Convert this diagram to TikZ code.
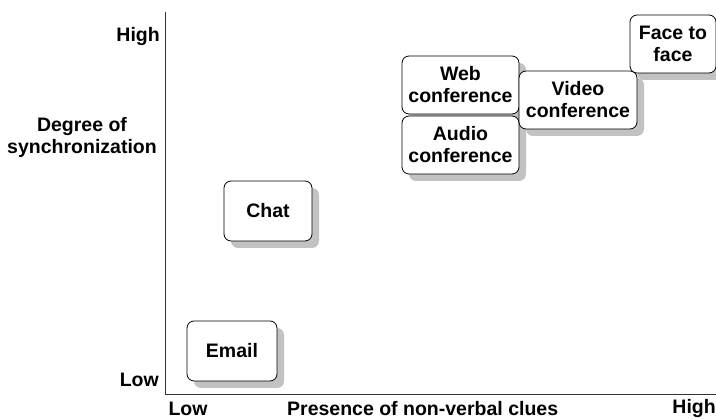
\documentclass[tikz,border=0pt]{standalone}
\usepackage{fontspec}
\setmainfont{Liberation Sans}
\usetikzlibrary{shadows}
\begin{document}
\begin{tikzpicture}[x=1pt,y=-1pt,
  medium/.style={
    draw=black, line width=0.8pt, fill=white, rounded corners=7pt,
    align=center, inner sep=0pt,
    font=\fontsize{19.5}{22}\selectfont\bfseries,
    drop shadow={shadow xshift=7pt, shadow yshift=-7pt, fill=black!24, opacity=1}},
  lbl/.style={inner sep=0pt, align=center, font=\fontsize{19.5}{22}\selectfont\bfseries},
  axis/.style={draw=black!80, line width=0.9pt}]
\useasboundingbox (0,0) rectangle (716,419);

% axes
\coordinate (top) at (165,12);
\coordinate (origin) at (165,394);
\coordinate (right) at (716,394);
\draw[axis] (top) -- (origin) -- (right);

% axis labels
\node[lbl, anchor=east] (yhigh) at (160,37) {High};
\node[lbl] (ytitle) at (82,137) {Degree of\\synchronization};
\node[lbl, anchor=east] (ylow) at (159,380) {Low};
\node[lbl] (xlow) at (188,409) {Low};
\node[lbl, anchor=west] (xtitle) at (287,409) {Presence of non-verbal clues};
\node[lbl, anchor=east] (xhigh) at (716,409) {High};

% communication media
\node[medium, minimum width=90pt, minimum height=60pt] (email) at (232,351) {Email};
\node[medium, minimum width=88pt, minimum height=60pt] (chat) at (268,211) {Chat};
\node[medium, minimum width=117pt, minimum height=58pt] (web) at (460.5,85) {Web\\conference};
\node[medium, minimum width=117pt, minimum height=58pt] (audio) at (460.5,145) {Audio\\conference};
\node[medium, minimum width=118pt, minimum height=58pt] (video) at (578,100) {Video\\conference};
\node[medium, minimum width=86pt, minimum height=58pt] (face) at (673,44) {Face to\\face};
\end{tikzpicture}
\end{document}
